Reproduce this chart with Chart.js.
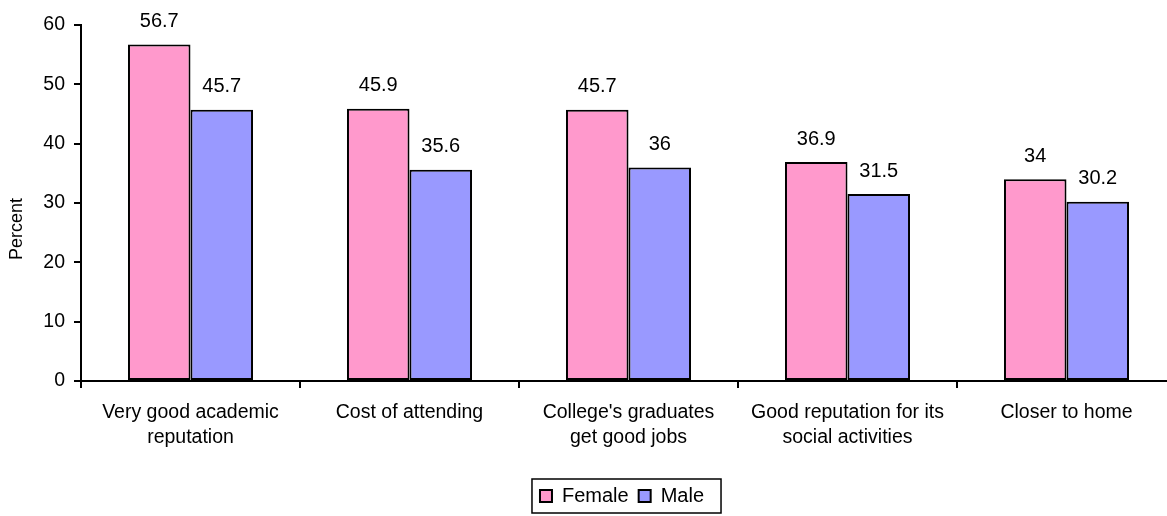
<!DOCTYPE html>
<html>
<head>
<meta charset="utf-8">
<script src="https://cdn.jsdelivr.net/npm/chart.js@4/dist/chart.umd.min.js"></script>
<style>
  html, body { margin: 0; padding: 0; overflow: hidden; background: #fff; }
  #wrap { width: 1176px; height: 516px; position: relative; }
</style>
</head>
<body>
<div id="wrap"><canvas id="myChart"></canvas></div>
<script>
// datos
const categorias = [
  ["Very good academic", "reputation"],
  ["Cost of attending"],
  ["College's graduates", "get good jobs"],
  ["Good reputation for its", "social activities"],
  ["Closer to home"]
];
const female = [56.7, 45.9, 45.7, 36.9, 34];
const male = [45.7, 35.6, 36, 31.5, 30.2];
const series = ["Female", "Male"];
const yTicks = [0, 10, 20, 30, 40, 50, 60];
const tituloY = "Percent";

const fuente = "'Liberation Sans', Arial, sans-serif";

// etiquetas encima de las barras
const etiquetas = {
  id: "etiquetas",
  afterDatasetsDraw(chart) {
    const ctx = chart.ctx;
    ctx.save();
    ctx.font = "20px " + fuente;
    ctx.fillStyle = "#000";
    ctx.textAlign = "center";
    ctx.textBaseline = "middle";
    chart.data.datasets.forEach((ds, i) => {
      chart.getDatasetMeta(i).data.forEach((bar, j) => {
        ctx.fillText(String(ds.data[j]), bar.x, bar.y - 23);
      });
    });
    ctx.restore();
  }
};

// titulo del eje y (un poco mas abajo que el centro, como en el original)
const tituloEje = {
  id: "tituloEje",
  afterDraw(chart) {
    const ctx = chart.ctx;
    const area = chart.chartArea;
    ctx.save();
    ctx.translate(17, (area.top + area.bottom) / 2 + 26);
    ctx.rotate(-Math.PI / 2);
    ctx.font = "18px " + fuente;
    ctx.fillStyle = "#000";
    ctx.textAlign = "center";
    ctx.textBaseline = "middle";
    ctx.fillText(tituloY, 0, 0);
    ctx.restore();
  }
};

// mover la leyenda un poco a la derecha y ponerle caja
const cajaLeyenda = {
  id: "cajaLeyenda",
  afterLayout(chart) {
    const lg = chart.legend;
    const shift = 622 - (lg.left + lg.right) / 2;
    lg.left += shift;
    lg.right += shift;
  },
  afterDraw(chart) {
    const hb = chart.legend.legendHitBoxes;
    if (!hb || !hb.length) return;
    let x0 = Infinity, x1 = -Infinity, y0 = Infinity, y1 = -Infinity;
    hb.forEach(b => {
      x0 = Math.min(x0, b.left); x1 = Math.max(x1, b.left + b.width);
      y0 = Math.min(y0, b.top); y1 = Math.max(y1, b.top + b.height);
    });
    const ctx = chart.ctx;
    ctx.save();
    ctx.strokeStyle = "#000";
    ctx.lineWidth = 1.5;
    ctx.strokeRect(x0 - 8, y0 - 7, (x1 - x0) + 25, (y1 - y0) + 14);
    ctx.restore();
  }
};

const config = {
  type: "bar",
  data: {
    labels: categorias,
    datasets: [
      {
        label: series[0],
        data: female,
        backgroundColor: "#FF99CC",
        borderColor: "#000",
        borderWidth: 2,
        borderSkipped: false
      },
      {
        label: series[1],
        data: male,
        backgroundColor: "#9999FF",
        borderColor: "#000",
        borderWidth: 2,
        borderSkipped: false
      }
    ]
  },
  options: {
    responsive: true,
    maintainAspectRatio: false,
    animation: false,
    layout: { padding: { left: 0, right: 0, top: 25, bottom: 0 } },
    datasets: { bar: { categoryPercentage: 0.571, barPercentage: 1 } },
    scales: {
      x: {
        grid: { display: true, drawOnChartArea: false, drawTicks: true, tickLength: 7, color: "#000", lineWidth: 2, offset: true },
        border: { display: true, color: "#000", width: 2 },
        ticks: { color: "#000", font: { family: fuente, size: 19.5, lineHeight: 1.28 }, maxRotation: 0, autoSkip: false, padding: 12 },
        afterFit(scale) { scale.height = 95; }
      },
      y: {
        min: 0,
        max: 60,
        afterBuildTicks(scale) { scale.ticks = yTicks.map(v => ({ value: v })); },
        grid: { display: true, drawOnChartArea: false, drawTicks: true, tickLength: 7, color: "#000", lineWidth: 2 },
        border: { display: true, color: "#000", width: 2 },
        ticks: { color: "#000", font: { family: fuente, size: 19.5 }, padding: 9 },
        title: { display: false },
        afterFit(scale) { scale.width = 81; }
      }
    },
    plugins: {
      legend: {
        position: "bottom",
        labels: {
          color: "#000",
          font: { family: fuente, size: 20 },
          boxWidth: 12,
          boxHeight: 12,
          padding: 10
        }
      },
      tooltip: { enabled: false }
    }
  },
  plugins: [etiquetas, tituloEje, cajaLeyenda]
};

const chart = new Chart(document.getElementById("myChart"), config);
</script>
</body>
</html>
